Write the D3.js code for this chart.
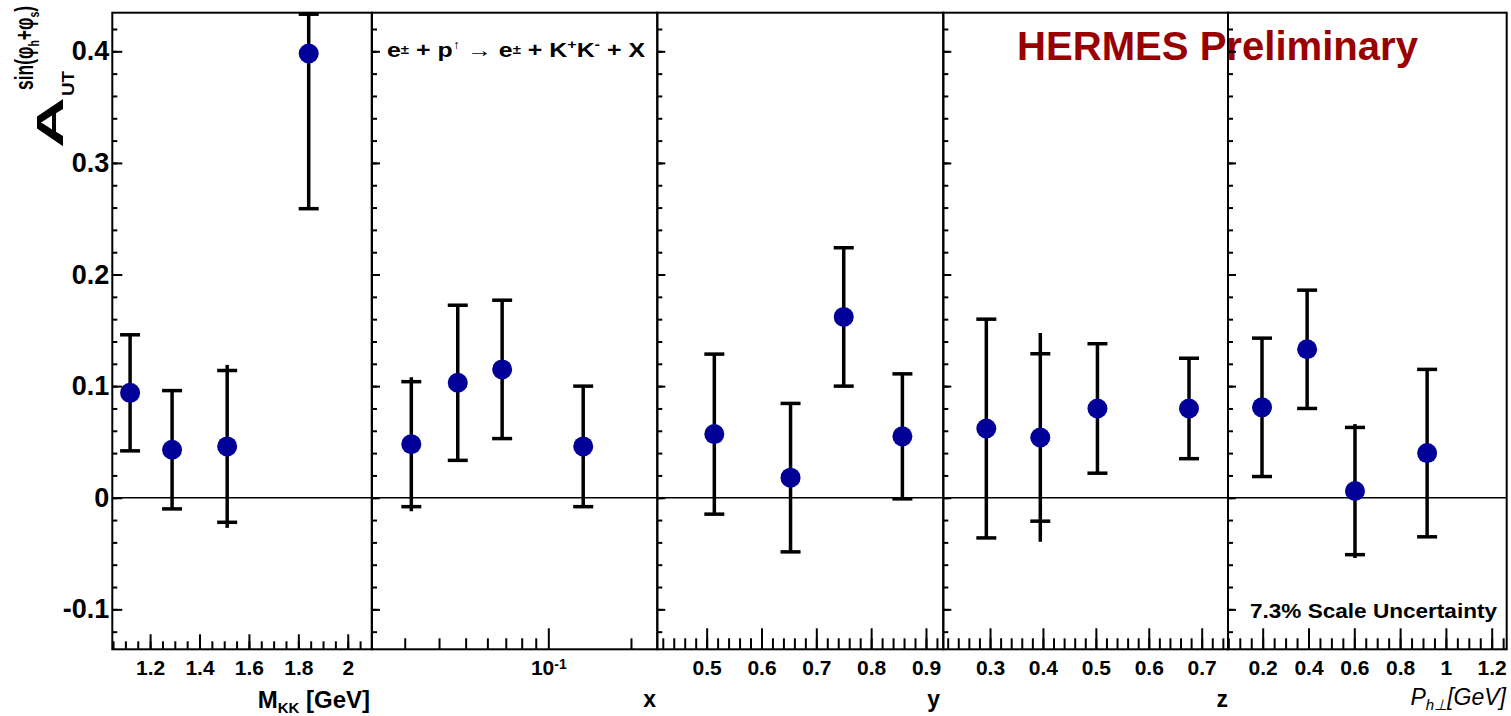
<!DOCTYPE html>
<html>
<head>
<meta charset="utf-8">
<script src="https://cdn.jsdelivr.net/npm/d3@7"></script>
<style>
body { margin: 0; background: #fff; }
text { font-family: "Liberation Sans", Arial, Helvetica, sans-serif; font-weight: bold; fill: #000; }
</style>
</head>
<body>
<div id="chart"></div>
<script>
// asymmetry vs M_KK
var mkkX = [1.119, 1.289, 1.512, 1.842];
var mkkY = [0.094, 0.043, 0.046, 0.398];
var mkkErr = [0.052, 0.053, 0.068, 0.139];
var mkkTot = [0.052, 0.053, 0.073, 0.139];

// asymmetry vs x (log axis)
var xbX = [0.0317, 0.0468, 0.0679, 0.134];
var xbY = [0.048, 0.103, 0.115, 0.046];
var xbErr = [0.056, 0.0695, 0.062, 0.054];
var xbTot = [0.060, 0.0695, 0.062, 0.054];

// asymmetry vs y
var ybX = [0.514, 0.653, 0.750, 0.857];
var ybY = [0.057, 0.018, 0.162, 0.055];
var ybErr = [0.0717, 0.0665, 0.062, 0.056];
var ybTot = [0.0717, 0.0665, 0.062, 0.056];

// asymmetry vs z
var zbX = [0.293, 0.395, 0.503, 0.676];
var zbY = [0.062, 0.054, 0.080, 0.080];
var zbErr = [0.098, 0.075, 0.058, 0.045];
var zbTot = [0.098, 0.0935, 0.058, 0.045];

// asymmetry vs P_h_perp
var ptX = [0.197, 0.394, 0.603, 0.918];
var ptY = [0.081, 0.133, 0.006, 0.040];
var ptErr = [0.062, 0.053, 0.057, 0.075];
var ptTot = [0.062, 0.053, 0.060, 0.075];

// tick labels
var yTicks = [-0.1, 0, 0.1, 0.2, 0.3, 0.4];
var mkkTicks = [1.2, 1.4, 1.6, 1.8, 2];
var xbTicks = [0.1];
var ybTicks = [0.5, 0.6, 0.7, 0.8, 0.9];
var zbTicks = [0.3, 0.4, 0.5, 0.6, 0.7];
var ptTicks = [0.2, 0.4, 0.6, 0.8, 1, 1.2];

var width = 1511,
    height = 716;
var frameTop = 12.7, frameBottom = 649.3;

var svg = d3.select("#chart").append("svg")
    .attr("width", width)
    .attr("height", height);

var y = d3.scaleLinear().domain([-0.1358, 0.4346]).range([frameBottom, frameTop]);

// keeps a pixel inside the frame
function clampY(v) { return Math.max(frameTop, Math.min(frameBottom, y(v))); }

function inside(dom) {
    return function(v) { return v >= dom[0] - 1e-9 && v <= dom[1] + 1e-9; };
}

var panels = [
    {left: 112.3, right: 371.7, log: false, domain: [1.047, 2.097], major: mkkTicks,
     minor: d3.range(1.05, 2.1, 0.05), majLen: 15, minLen: 8, yMaj: 10, yMin: 5,
     xs: mkkX, ys: mkkY, err: mkkErr, tot: mkkTot},
    {left: 372, right: 657.3, log: true, domain: [0.0228, 0.2494], major: xbTicks,
     minor: [0.03, 0.04, 0.05, 0.06, 0.07, 0.08, 0.09, 0.2], majLen: 21, minLen: 11, yMaj: 8, yMin: 5,
     xs: xbX, ys: xbY, err: xbErr, tot: xbTot},
    {left: 657.3, right: 943.3, log: false, domain: [0.410, 0.9316], major: ybTicks,
     minor: d3.range(0.42, 0.93, 0.02), majLen: 21, minLen: 11, yMaj: 8, yMin: 5,
     xs: ybX, ys: ybY, err: ybErr, tot: ybTot},
    {left: 943.3, right: 1228, log: false, domain: [0.2117, 0.7497], major: zbTicks,
     minor: d3.range(0.22, 0.75, 0.02), majLen: 21, minLen: 11, yMaj: 8, yMin: 5,
     xs: zbX, ys: zbY, err: zbErr, tot: zbTot},
    {left: 1228, right: 1506.7, log: false, domain: [0.0485, 1.2655], major: ptTicks,
     minor: d3.range(0.05, 1.26, 0.05), majLen: 21, minLen: 11, yMaj: 8, yMin: 5,
     xs: ptX, ys: ptY, err: ptErr, tot: ptTot}
];

// title goes under the frames, like in the original
svg.append("text")
    .attr("x", 1017)
    .attr("y", 60)
    .attr("font-size", 40)
    .attr("textLength", 401)
    .attr("lengthAdjust", "spacingAndGlyphs")
    .style("fill", "#990000")
    .text("HERMES Preliminary");

panels.forEach(function(p, pi) {
    var x = (p.log ? d3.scaleLog() : d3.scaleLinear()).domain(p.domain).range([p.left, p.right]);
    var g = svg.append("g");

    // minor x ticks
    g.append("g")
        .attr("transform", "translate(0," + frameBottom + ")")
        .call(d3.axisBottom(x).tickValues(p.minor.filter(inside(p.domain))).tickSizeInner(-p.minLen).tickSizeOuter(0).tickFormat(""))
        .call(function(a) { a.select(".domain").remove(); });

    // major x ticks with labels
    var xa = g.append("g")
        .attr("transform", "translate(0," + frameBottom + ")")
        .call(d3.axisBottom(x).tickValues(p.major).tickSizeInner(-p.majLen).tickSizeOuter(0).tickPadding(11)
            .tickFormat(function(d) { return String(d); }))
        .call(function(a) { a.select(".domain").remove(); });
    xa.selectAll("text").attr("font-size", 21).attr("font-family", null).style("font-weight", "bold");
    if (p.log) {
        xa.selectAll("text").text("10").append("tspan")
            .attr("dy", "-0.45em").attr("font-size", 14).text("-1");
    }

    // y ticks on the left side of every panel
    g.append("g")
        .attr("transform", "translate(" + p.left + ",0)")
        .call(d3.axisLeft(y).tickValues(d3.range(-0.12, 0.43, 0.02)).tickSizeInner(-p.yMin).tickSizeOuter(0).tickFormat(""))
        .call(function(a) { a.select(".domain").remove(); });
    var ya = g.append("g")
        .attr("transform", "translate(" + p.left + ",0)")
        .call(d3.axisLeft(y).tickValues(yTicks).tickSizeInner(-p.yMaj).tickSizeOuter(0).tickPadding(3)
            .tickFormat(pi == 0 ? function(d) { return String(d); } : ""))
        .call(function(a) { a.select(".domain").remove(); });
    ya.selectAll("text").attr("font-size", 27).attr("font-family", null).style("font-weight", "bold");

    svg.selectAll(".tick line").attr("stroke-width", 2);

    // zero line
    g.append("line")
        .attr("x1", p.left).attr("x2", p.right)
        .attr("y1", y(0)).attr("y2", y(0))
        .attr("stroke", "#000").attr("stroke-width", 1.6);

    // frame
    g.append("rect")
        .attr("x", p.left).attr("y", frameTop)
        .attr("width", p.right - p.left).attr("height", frameBottom - frameTop)
        .attr("fill", "none").attr("stroke", "#000").attr("stroke-width", 2);

    // error bars and markers
    var pts = p.xs.map(function(d, i) {
        return {x: d, y: p.ys[i], e: p.err[i], t: p.tot[i]};
    });
    var bars = g.selectAll("g.bar").data(pts).enter().append("g").attr("class", "bar");
    bars.append("line")
        .attr("x1", function(d) { return x(d.x); })
        .attr("x2", function(d) { return x(d.x); })
        .attr("y1", function(d) { return clampY(d.y - d.t); })
        .attr("y2", function(d) { return clampY(d.y + d.t); })
        .attr("stroke", "#000").attr("stroke-width", 3.5);
    [-1, 1].forEach(function(s) {
        var capY = function(d) {
            var c = clampY(d.y + s * d.e);
            return c == frameTop ? c + 1.5 : c;
        };
        bars.append("line")
            .attr("x1", function(d) { return x(d.x) - 10; })
            .attr("x2", function(d) { return x(d.x) + 10; })
            .attr("y1", capY)
            .attr("y2", capY)
            .attr("stroke", "#000").attr("stroke-width", 3.5);
    });
    bars.append("circle")
        .attr("cx", function(d) { return x(d.x); })
        .attr("cy", function(d) { return y(d.y); })
        .attr("r", 10)
        .attr("fill", "#000099");
});

// x axis titles
var mt = svg.append("text").attr("x", 370).attr("y", 708).attr("text-anchor", "end").attr("font-size", 24);
mt.append("tspan").text("M");
mt.append("tspan").attr("font-size", 15).attr("dy", 5).text("KK");
mt.append("tspan").attr("dy", -5).text(" [GeV]");

[["x", 656], ["y", 940], ["z", 1228]].forEach(function(t) {
    svg.append("text").attr("x", t[1]).attr("y", 707).attr("text-anchor", "end")
        .attr("font-size", 23).text(t[0]);
});

var pt = svg.append("text").attr("x", 1506).attr("y", 705).attr("text-anchor", "end")
    .attr("font-size", 23).style("font-weight", "normal").style("font-style", "italic");
pt.append("tspan").text("P");
pt.append("tspan").attr("font-size", 15).attr("dy", 5).text("h⊥");
pt.append("tspan").attr("dy", -5).text("[GeV]");

// y axis title, rotated
var yt = svg.append("g").attr("transform", "translate(63,148) rotate(-90)");
yt.append("text").attr("x", 0).attr("y", 0).attr("font-size", 37)
    .attr("textLength", 51).attr("lengthAdjust", "spacingAndGlyphs").text("A");
yt.append("text").attr("x", 52).attr("y", 11).attr("font-size", 16)
    .attr("textLength", 25).attr("lengthAdjust", "spacingAndGlyphs").text("UT");
var sup = yt.append("text").attr("x", 58).attr("y", -30).attr("font-size", 25)
    .attr("textLength", 84).attr("lengthAdjust", "spacingAndGlyphs");
sup.append("tspan").text("sin(φ");
sup.append("tspan").attr("font-size", 15).attr("dy", 6).text("h");
sup.append("tspan").attr("dy", -6).text("+φ");
sup.append("tspan").attr("font-size", 15).attr("dy", 6).text("s");
sup.append("tspan").attr("dy", -6).text(")");

// reaction label
var rl = svg.append("text").attr("x", 387).attr("y", 57).attr("font-size", 20)
    .attr("textLength", 258).attr("lengthAdjust", "spacingAndGlyphs");
rl.append("tspan").text("e");
rl.append("tspan").attr("font-size", 12).attr("dy", -3).text("±");
rl.append("tspan").attr("dy", 3).text(" + p");
rl.append("tspan").attr("font-size", 12).attr("dy", -8).style("font-weight", "normal").text("↑");
rl.append("tspan").attr("dy", 8).style("font-weight", "normal").text("  → ");
rl.append("tspan").text("e");
rl.append("tspan").attr("font-size", 12).attr("dy", -3).text("±");
rl.append("tspan").attr("dy", 3).text(" + K");
rl.append("tspan").attr("font-size", 13).attr("dy", -8).text("+");
rl.append("tspan").attr("dy", 8).text("K");
rl.append("tspan").attr("font-size", 13).attr("dy", -8).text("-");
rl.append("tspan").attr("dy", 8).text(" + X");

// scale uncertainty note
svg.append("text").attr("x", 1250).attr("y", 618).attr("font-size", 21)
    .attr("textLength", 247).attr("lengthAdjust", "spacingAndGlyphs")
    .text("7.3% Scale Uncertainty");
</script>
</body>
</html>
